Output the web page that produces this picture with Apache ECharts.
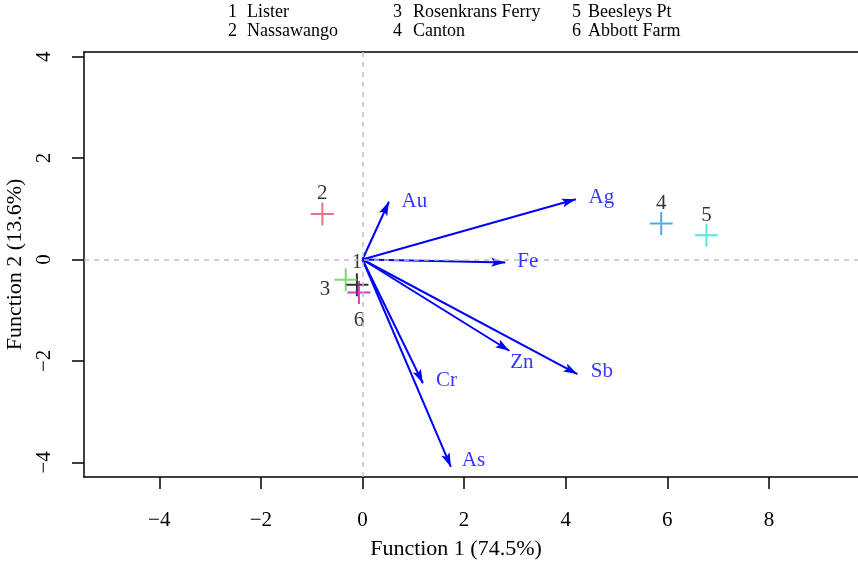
<!DOCTYPE html>
<html>
<head>
<meta charset="utf-8">
<script src="https://cdn.jsdelivr.net/npm/echarts@6/dist/echarts.min.js"></script>
<style>html,body{margin:0;padding:0;background:#fff}#c{width:858px;height:562px}</style>
</head>
<body>
<div id="c"></div>
<script>
// Site scores (discriminant function 1 and 2)
const siteNums = ['1','2','3','4','5','6'];
const siteNames = ['Lister','Nassawango','Rosenkrans Ferry','Canton','Beesleys Pt','Abbott Farm'];
const siteX = [-0.11, -0.79, -0.33, 5.88, 6.77, -0.07];
const siteY = [-0.50, 0.90, -0.40, 0.71, 0.48, -0.65];
const siteColors = ['#000000', '#DF536B', '#61D04F', '#2297E6', '#28E2E5', '#CD0BBC'];
// Element loadings (arrow tips)
const elements = ['Au', 'Ag', 'Fe', 'Zn', 'Sb', 'Cr', 'As'];
const loadX = [0.52, 4.20, 2.81, 2.89, 4.23, 1.19, 1.74];
const loadY = [1.14, 1.19, -0.06, -1.80, -2.26, -2.44, -4.09];
// Axis ticks and titles
const xTicks = [-4, -2, 0, 2, 4, 6, 8];
const yTicks = [-4, -2, 0, 2, 4];
const xTitle = 'Function 1 (74.5%)';
const yTitle = 'Function 2 (13.6%)';

const FONT = 'Liberation Serif';
const fmt = v => (v < 0 ? '\u2212' + (-v) : String(v));

// label placement per site (style)
const siteLabelCfg = [
  {position: 'top', distance: -1},
  {position: 'top', distance: -3},
  {position: 'left', distance: 3, offset: [0, 10]},
  {position: 'top', distance: -3},
  {position: 'top', distance: -3},
  {position: 'bottom', distance: 5}
];
// label offsets (pixels) relative to arrow tips
const elemLabelOff = [[26, 0], [26, -1], [23, -1], [13, 12], [25, -2], [24, -2], [23, -6]];

const chart = echarts.init(document.getElementById('c'), null, {renderer: 'canvas'});

const axisCommon = {
  type: 'value',
  splitLine: {show: false},
  axisLine: {show: true, onZero: false, lineStyle: {color: '#000', width: 1.5}},
  axisTick: {show: true, length: 12, lineStyle: {color: '#000', width: 1.5}},
  nameLocation: 'middle',
  nameTextStyle: {fontFamily: FONT, fontSize: 22, color: '#000'}
};

const graphics = [];
const colNumX = [228, 393, 572];
const colTxtX = [247, 413, 588];
const rowY = [13, 32];
for (let i = 0; i < siteNames.length; i++) {
  const col = Math.floor(i / 2), row = i % 2;
  graphics.push({type: 'text', left: colNumX[col], top: rowY[row] - 10,
    style: {text: siteNums[i], font: '18px ' + FONT, fill: '#000'}});
  graphics.push({type: 'text', left: colTxtX[col], top: rowY[row] - 10,
    style: {text: siteNames[i], font: '18px ' + FONT, fill: '#000'}});
}
graphics.push({type: 'text', x: 456, y: 549,
  style: {text: xTitle, font: '22px ' + FONT, fill: '#000', align: 'center', verticalAlign: 'middle'}});

// arrowhead pointing up, tip at the vertical centre of its bounding box
const ARROW = 'path://M5 -14 L5.01 -14 M5 0 L10 14 L5 11 L0 14 Z';

const option = {
  animation: false,
  backgroundColor: '#fff',
  grid: {left: 84, right: 0, top: 52, bottom: 85, containLabel: false, outerBoundsMode: 'none'},
  xAxis: [
    Object.assign({}, axisCommon, {
      min: -5.482, max: 9.754, position: 'bottom',
      axisTick: Object.assign({}, axisCommon.axisTick, {customValues: xTicks}),
      axisLabel: {customValues: xTicks, formatter: fmt, margin: 33,
        fontFamily: FONT, fontSize: 21, color: '#000'}
    }),
    {type: 'value', min: -5.482, max: 9.754, position: 'top',
      axisLine: {show: true, onZero: false, lineStyle: {color: '#000', width: 1.5}},
      axisTick: {show: false}, axisLabel: {show: false}, splitLine: {show: false}}
  ],
  yAxis: Object.assign({}, axisCommon, {
    min: -4.290, max: 4.093,
    name: yTitle, nameGap: 49,
    axisTick: Object.assign({}, axisCommon.axisTick, {customValues: yTicks}),
    axisLabel: {customValues: yTicks, formatter: fmt, margin: 29, rotate: 90,
      fontFamily: FONT, fontSize: 21, color: '#000'}
  }),
  graphic: graphics,
  series: [
    {
      type: 'line', data: [], silent: true,
      markLine: {
        silent: true, symbol: 'none', label: {show: false},
        lineStyle: {color: '#BEBEBE', type: [5, 5], width: 1.5},
        data: [{xAxis: 0}, {yAxis: 0}]
      }
    },
    {
      type: 'scatter', z: 3,
      symbol: 'path://M0 10 L20 10 M10 0 L10 20',
      symbolSize: 23,
      data: siteX.map((x, i) => ({
        value: [x, siteY[i]],
        itemStyle: {color: 'rgba(0,0,0,0)', borderColor: siteColors[i], borderWidth: 2},
        label: Object.assign({show: true, formatter: siteNums[i], color: '#000',
          fontFamily: FONT, fontSize: 21}, siteLabelCfg[i])
      }))
    },
    {
      type: 'lines', coordinateSystem: 'cartesian2d', z: 4,
      symbol: ['none', ARROW], symbolSize: [0, [9, 28]],
      lineStyle: {color: '#0000FF', width: 2, opacity: 1, curveness: 0},
      data: loadX.map((x, i) => ({coords: [[0, 0], [x, loadY[i]]]}))
    },
    {
      type: 'scatter', z: 5, symbol: 'circle', symbolSize: 1,
      itemStyle: {color: 'rgba(0,0,0,0)'},
      data: loadX.map((x, i) => ({
        value: [x, loadY[i]],
        label: {show: true, formatter: elements[i], position: elemLabelOff[i],
          align: 'center', verticalAlign: 'middle', color: '#0000FF',
          fontFamily: FONT, fontSize: 21}
      }))
    }
  ]
};
chart.setOption(option);
</script>
</body>
</html>
